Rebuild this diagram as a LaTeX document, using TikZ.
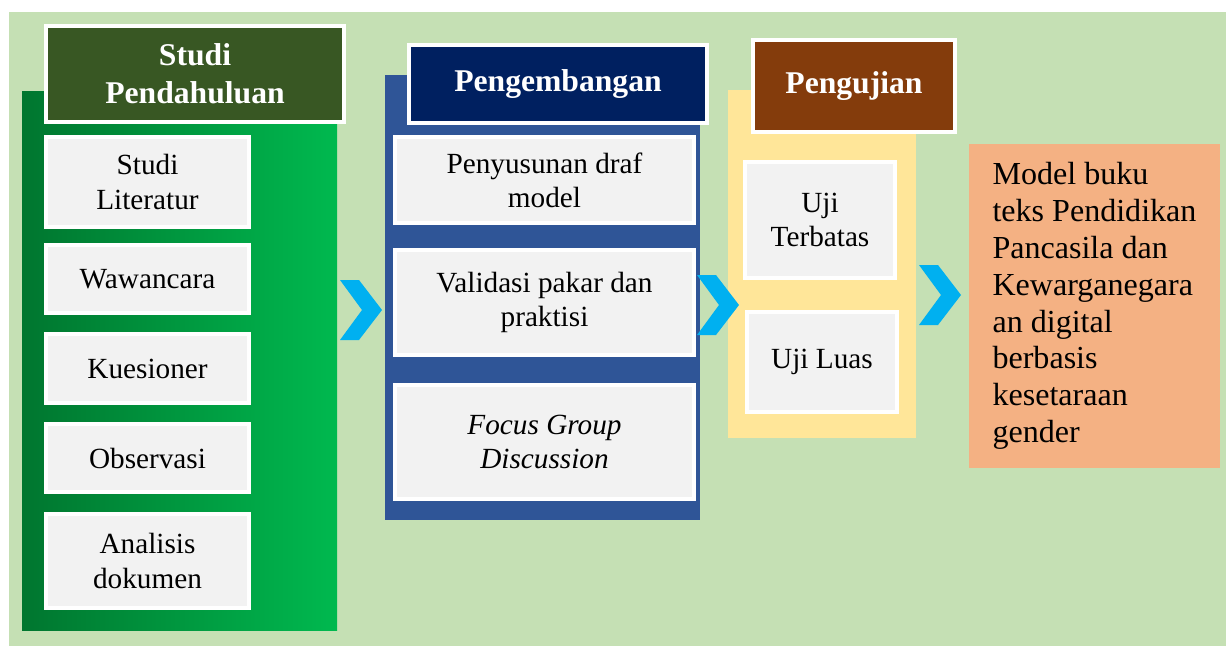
\documentclass[tikz,border=0pt]{standalone}
\usepackage{fontspec}
\setmainfont{Liberation Serif}
\usetikzlibrary{positioning}
\definecolor{bggreen}{HTML}{C5E0B4}
\definecolor{greenA}{HTML}{00762F}
\definecolor{greenB}{HTML}{00B94F}
\definecolor{titlegreen}{HTML}{385723}
\definecolor{panelblue}{HTML}{2F5597}
\definecolor{navy}{HTML}{002060}
\definecolor{rust}{HTML}{843C0C}
\definecolor{paleyellow}{HTML}{FFE699}
\definecolor{salmon}{HTML}{F4B183}
\definecolor{chevblue}{HTML}{00B0F0}
\definecolor{itemgray}{HTML}{F2F2F2}

\begin{document}
\begin{tikzpicture}[x=0.025cm,y=-0.025cm,
  item/.style={draw=white,line width=2.8pt,fill=itemgray,align=center,inner sep=0pt,
    font=\fontsize{20.8}{24.2}\selectfont},
  title/.style={draw=white,line width=2.8pt,text=white,align=center,inner sep=0pt,
    font=\bfseries\fontsize{22.5}{27}\selectfont}]
\useasboundingbox (0,0) rectangle (1226,646);
\fill[bggreen] (9,12) rectangle (1226,646);

% the three stage panels
\shade[left color=greenA,right color=greenB] (22,91) rectangle (337,630);
\fill[panelblue] (385,75) rectangle (700,520);
\fill[paleyellow] (728,90) rectangle (916,438);

% stage titles
\node[title,fill=titlegreen,minimum width=7.45cm,minimum height=2.4cm] (studi) at (195,74) {Studi\\Pendahuluan};
\node[title,fill=navy,minimum width=7.45cm,minimum height=1.95cm] (kembang) at (558,84) {Pengembangan};
\node[title,fill=rust,minimum width=5.05cm,minimum height=2.3cm] (uji) at (854,86) {Pengujian};

% studi pendahuluan
\node[item,minimum width=5.075cm,minimum height=2.25cm] (lit) at (147.5,182) {Studi\\Literatur};
\node[item,minimum width=5.075cm,minimum height=1.7cm] (wawan) at (147.5,279) {Wawancara};
\node[item,minimum width=5.075cm,minimum height=1.725cm] (kues) at (147.5,368.5) {Kuesioner};
\node[item,minimum width=5.075cm,minimum height=1.7cm] (obs) at (147.5,458) {Observasi};
\node[item,minimum width=5.075cm,minimum height=2.35cm] (dok) at (147.5,561) {Analisis\\dokumen};

% pengembangan
\node[item,minimum width=7.475cm,minimum height=2.15cm] (draf) at (544.5,180) {Penyusunan draf\\model};
\node[item,minimum width=7.475cm,minimum height=2.625cm] (valid) at (544.5,302.5) {Validasi pakar dan\\praktisi};
\node[item,minimum width=7.475cm,minimum height=2.85cm] (fgd) at (544.5,442) {\textit{Focus Group}\\\textit{Discussion}};

% pengujian
\node[item,minimum width=3.75cm,minimum height=2.9cm] (terbatas) at (820,220) {Uji\\Terbatas};
\node[item,minimum width=3.75cm,minimum height=2.5cm] (luas) at (822,362) {Uji Luas};

% result
\node[fill=salmon,minimum width=6.275cm,minimum height=8.1cm,align=left,
  font=\fontsize{22.8}{26.2}\selectfont] (hasil) at (1094.5,306)
  {Model buku\\teks Pendidikan\\Pancasila dan\\Kewarganegara\\an digital\\berbasis\\kesetaraan\\gender};

% chevrons between the stages
\foreach \x/\y in {382/310, 739/305, 961/295}
  \fill[chevblue] (\x,\y) -- ++(-23,-30) -- ++(-19,0) -- ++(22,30) -- ++(-22,30) -- ++(19,0) -- cycle;

\end{tikzpicture}
\end{document}
